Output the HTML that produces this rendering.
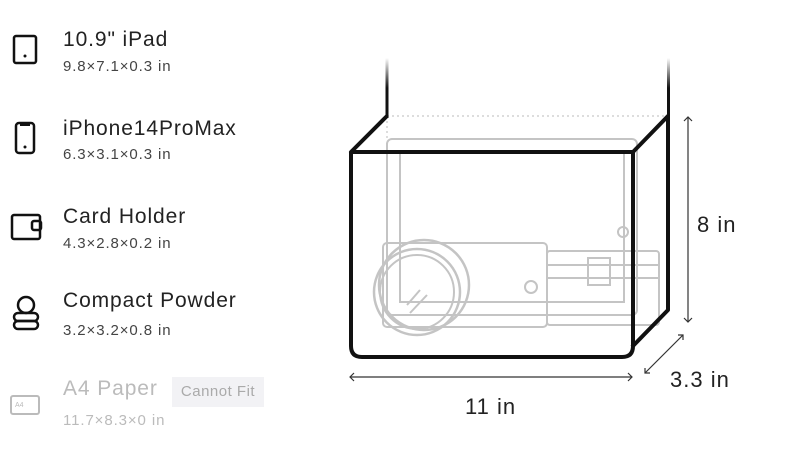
<!DOCTYPE html>
<html><head><style>
body{margin:0;width:800px;height:455px;background:#fff;overflow:hidden;font-family:"Liberation Sans",sans-serif;}
.t{position:absolute;left:63px;font-size:21px;color:#222;letter-spacing:0.9px;}
.s{position:absolute;left:63px;font-size:15px;color:#444;letter-spacing:0.9px;}
</style></head><body>
<div class="t" style="top:28px">10.9" iPad</div>
<div class="s" style="top:58px">9.8×7.1×0.3 in</div>
<div class="t" style="top:117px">iPhone14ProMax</div>
<div class="s" style="top:146px">6.3×3.1×0.3 in</div>
<div class="t" style="top:205px">Card Holder</div>
<div class="s" style="top:235px">4.3×2.8×0.2 in</div>
<div class="t" style="top:289px">Compact Powder</div>
<div class="s" style="top:322px">3.2×3.2×0.8 in</div>
<div class="t" style="top:377px;color:#bbb">A4 Paper</div>
<div style="position:absolute;left:172px;top:377px;width:92px;height:30px;background:#f2f2f5;color:#aaa;font-size:15px;line-height:30px;text-align:center;letter-spacing:0.5px">Cannot Fit</div>
<div class="s" style="top:412px;color:#bbb">11.7×8.3×0 in</div>
<svg width="800" height="455" style="position:absolute;left:0;top:0">
<defs><linearGradient id="g" x1="0" y1="0" x2="0" y2="1"><stop offset="0" stop-color="#111" stop-opacity="0"/><stop offset="0.5" stop-color="#111"/></linearGradient></defs>
<g fill="none" stroke="#111" stroke-width="2.5">
<rect x="14" y="36" width="22" height="27" rx="2"/>
<rect x="16" y="123" width="18" height="30" rx="3"/>
<rect x="12" y="215" width="28" height="24" rx="2"/>
<rect x="32" y="221" width="9" height="9" rx="2"/>
<circle cx="26" cy="305" r="8"/>
<rect x="14" y="313" width="24" height="8" rx="4"/><rect x="14" y="321" width="24" height="8" rx="4"/>
</g>
<circle cx="25" cy="56" r="1.5" fill="#111"/><circle cx="25" cy="147" r="1.5" fill="#111"/>
<rect x="20" y="124" width="10" height="2" fill="#111"/>
<rect x="11" y="396" width="28" height="18" rx="2" fill="none" stroke="#bbb" stroke-width="2"/>
<text x="15" y="407" font-size="7" fill="#bbb">A4</text>
<g fill="none" stroke="#c4c4c4" stroke-width="2">
<rect x="387" y="139" width="250" height="176" rx="5"/>
<rect x="400" y="152" width="224" height="150"/>
<circle cx="623" cy="232" r="5"/>
<rect x="547" y="251" width="112" height="74" rx="3"/>
<line x1="547" y1="265" x2="659" y2="265"/><line x1="547" y1="278" x2="659" y2="278"/>
<rect x="588" y="258" width="22" height="27"/>
<rect x="383" y="243" width="164" height="84" rx="4"/>
<circle cx="531" cy="287" r="6"/>
<circle cx="424" cy="285" r="45" stroke-width="2.5"/>
<circle cx="417" cy="292" r="43" stroke-width="2.5"/>
<circle cx="417" cy="292" r="37"/>
<line x1="407" y1="305" x2="420" y2="290"/><line x1="410" y1="313" x2="427" y2="295"/>
</g>
<line x1="387" y1="116" x2="668" y2="116" stroke="#bbb" stroke-dasharray="2 3"/>
<line x1="387" y1="116" x2="387" y2="139" stroke="#bbb" stroke-dasharray="2 3"/>
<rect x="385.5" y="58" width="3" height="60" fill="url(#g)"/>
<rect x="667" y="58" width="3" height="60" fill="url(#g)"/>
<g fill="none" stroke="#111" stroke-width="4" stroke-linejoin="round">
<path d="M387 116 L351 152 L633 152 L668 116 L668 310 L632 347"/>
<path d="M351 152 L351 346 Q351 357 362 357 L622 357 Q633 357 633 346 L633 152"/>
</g>
<g stroke="#333" stroke-width="1.2" fill="none">
<line x1="688" y1="117" x2="688" y2="322"/><path d="M684 121 L688 117 L692 121 M684 318 L688 322 L692 318"/>
<line x1="350" y1="377" x2="632" y2="377"/><path d="M354 373 L350 377 L354 381 M628 373 L632 377 L628 381"/>
<line x1="645" y1="373" x2="683" y2="335"/><path d="M645 368 L645 373 L650 373 M678 335 L683 335 L683 340"/>
</g>
<text x="697" y="232" font-size="22" fill="#222" letter-spacing="1">8 in</text>
<text x="465" y="414" font-size="22" fill="#222" letter-spacing="1">11 in</text>
<text x="670" y="387" font-size="22" fill="#222" letter-spacing="1">3.3 in</text>
</svg>
</body></html>
